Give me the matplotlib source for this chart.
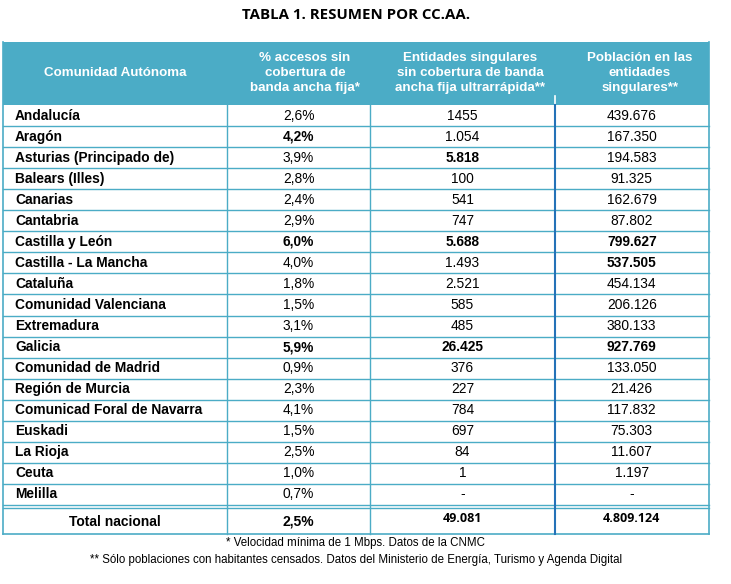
import matplotlib.pyplot as plt
from matplotlib.patches import Rectangle

# table content
title = "TABLA 1. RESUMEN POR CC.AA."
headers = ["Comunidad Autónoma",
           "% accesos sin\ncobertura de\nbanda ancha fija*",
           "Entidades singulares\nsin cobertura de banda\nancha fija ultrarrápida**",
           "Población en las\nentidades\nsingulares**"]
regions = ["Andalucía", "Aragón", "Asturias (Principado de)", "Balears (Illes)",
           "Canarias", "Cantabria", "Castilla y León", "Castilla - La Mancha",
           "Cataluña", "Comunidad Valenciana", "Extremadura", "Galicia",
           "Comunidad de Madrid", "Región de Murcia", "Comunicad Foral de Navarra",
           "Euskadi", "La Rioja", "Ceuta", "Melilla"]
pct_accesos = ["2,6%", "4,2%", "3,9%", "2,8%", "2,4%", "2,9%", "6,0%", "4,0%",
               "1,8%", "1,5%", "3,1%", "5,9%", "0,9%", "2,3%", "4,1%", "1,5%",
               "2,5%", "1,0%", "0,7%"]
entidades = ["1455", "1.054", "5.818", "100", "541", "747", "5.688", "1.493",
             "2.521", "585", "485", "26.425", "376", "227", "784", "697",
             "84", "1", "-"]
poblacion = ["439.676", "167.350", "194.583", "91.325", "162.679", "87.802",
             "799.627", "537.505", "454.134", "206.126", "380.133", "927.769",
             "133.050", "21.426", "117.832", "75.303", "11.607", "1.197", "-"]
# highlighted (bold) cells: (row, column)
bold_cells = {(1, 1), (2, 2), (6, 1), (6, 2), (6, 3), (7, 3), (11, 1), (11, 2), (11, 3)}
total = ["Total nacional", "2,5%", "49.081", "4.809.124"]
notes = ["* Velocidad mínima de 1 Mbps. Datos de la CNMC",
         "** Sólo poblaciones con habitantes censados. Datos del Ministerio de Energía, Turismo y Agenda Digital"]

teal = "#4BACC6"
dark = "#2472B8"

fig = plt.figure(figsize=(7.31, 5.84), dpi=100)
ax = fig.add_axes([0, 0, 1, 1])
ax.set_xlim(0, 731)
ax.set_ylim(584, 0)
ax.axis("off")

xs = [2.5, 227, 370, 555, 708.5]
head_top, head_bot = 42, 105
row_h = (505 - head_bot) / len(regions)
tot_top, tot_bot = 508, 534

ax.text(356, 15, title, ha="center", va="center", fontsize=10.8,
        fontweight="bold", family="Open Sans")

# header band
ax.add_patch(Rectangle((xs[0], head_top), xs[-1] - xs[0], head_bot - head_top,
                       facecolor=teal, edgecolor="none"))
hx = [115, 305, 470, 640]
for i, h in enumerate(headers):
    ax.text(hx[i], 73, h, ha="center", va="center", color="white",
            fontsize=9.6, fontweight="bold", family="Liberation Sans",
            linespacing=1.32)
ax.plot([xs[3], xs[3]], [96, head_bot], color="white", lw=1.2)

# body rows
centers = [(xs[1] + xs[2]) / 2, (xs[2] + xs[3]) / 2, (xs[3] + xs[4]) / 2]
for r, name in enumerate(regions):
    y = head_bot + row_h * (r + 0.5)
    ax.text(15, y, name, ha="left", va="center", fontsize=9.9,
            fontweight="bold", family="Liberation Sans")
    for c, val in enumerate([pct_accesos[r], entidades[r], poblacion[r]], start=1):
        w = "bold" if (r, c) in bold_cells else "normal"
        ax.text(centers[c - 1], y, val, ha="center", va="center", fontsize=9.9,
                fontweight=w, family="Liberation Sans")
    yb = head_bot + row_h * (r + 1)
    if r < len(regions) - 1:
        ax.plot([xs[0], xs[-1]], [yb, yb], color=teal, lw=1)

# total row
ty = (tot_top + tot_bot) / 2
ax.text(115, ty + 0.5, total[0], ha="center", va="center", fontsize=10,
        fontweight="bold", family="Liberation Sans")
ax.text(centers[0], ty + 0.5, total[1], ha="center", va="center", fontsize=10,
        fontweight="bold", family="Liberation Sans")
ax.text(centers[1], ty - 2, total[2], ha="center", va="center", fontsize=9,
        fontweight="bold", family="Open Sans")
ax.text(centers[2], ty - 2, total[3], ha="center", va="center", fontsize=9,
        fontweight="bold", family="Open Sans")

# grid lines
ax.plot([xs[0], xs[-1]], [505, 505], color=teal, lw=1)
ax.plot([xs[0], xs[-1]], [tot_top, tot_top], color=teal, lw=1)
ax.plot([xs[0], xs[-1]], [tot_bot, tot_bot], color=teal, lw=1.2)
ax.plot([xs[0], xs[0]], [head_top, tot_bot], color=teal, lw=1.2)
ax.plot([xs[-1], xs[-1]], [head_top, tot_bot], color=teal, lw=1.2)
for x in xs[1:3]:
    ax.plot([x, x], [head_bot, tot_bot], color=teal, lw=1)
ax.plot([xs[3], xs[3]], [head_bot, tot_bot], color=dark, lw=1.5)

# footnotes
ax.text(356, 543, notes[0], ha="center", va="center", fontsize=8.3,
        family="Liberation Sans")
ax.text(356, 560, notes[1], ha="center", va="center", fontsize=8.3,
        family="Liberation Sans")

fig.savefig("out.png", dpi=100)
